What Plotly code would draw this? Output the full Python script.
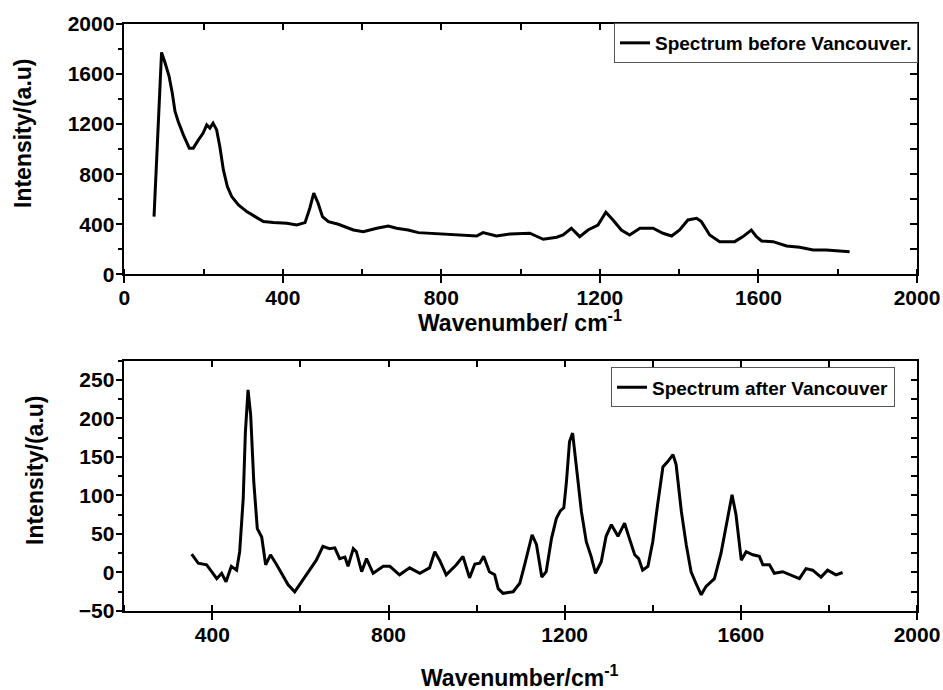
import plotly.graph_objects as go

# Raman spectrum recorded before the trip (wavenumber in cm^-1, intensity in a.u.)
wn_before = [75, 94, 103, 113, 121, 128, 136, 149, 164, 174, 187, 199, 208, 216, 224, 233,
             241, 250, 260, 271, 288, 309, 330, 351, 376, 410, 435, 456, 468, 478, 489, 500,
             515, 540, 578, 603, 637, 666, 687, 716, 742, 771, 813, 855, 889, 905, 939, 973,
             1006, 1023, 1057, 1091, 1107, 1128, 1149, 1170, 1195, 1215, 1233, 1254, 1275,
             1301, 1334, 1359, 1381, 1401, 1422, 1444, 1456, 1477, 1502, 1540, 1561, 1582,
             1595, 1608, 1637, 1671, 1704, 1738, 1771, 1805, 1830]
int_before = [461, 1773, 1688, 1581, 1448, 1301, 1221, 1114, 1008, 1008, 1074, 1128, 1194, 1168,
              1208, 1154, 1021, 834, 701, 621, 554, 501, 461, 421, 413, 408, 394, 413, 528, 648,
              568, 461, 421, 400, 354, 341, 368, 386, 368, 354, 333, 328, 322, 314, 306, 333,
              306, 322, 322, 328, 280, 296, 314, 368, 301, 354, 394, 496, 434, 354, 314, 368,
              368, 328, 306, 354, 434, 448, 421, 314, 261, 261, 301, 354, 301, 266, 261, 226,
              216, 194, 194, 189, 181]

# Baseline-corrected spectrum recorded after the trip
wn_after = [353, 368, 387, 410, 421, 431, 443, 455, 462, 470, 475, 481, 487, 494, 502, 512,
            521, 532, 546, 557, 572, 587, 602, 621, 636, 651, 666, 678, 689, 701, 708, 720,
            727, 739, 750, 765, 788, 803, 825, 848, 871, 893, 905, 916, 931, 954, 969, 984,
            996, 1007, 1016, 1029, 1041, 1049, 1060, 1083, 1098, 1109, 1117, 1126, 1136, 1148,
            1158, 1170, 1181, 1190, 1198, 1204, 1211, 1218, 1226, 1238, 1249, 1260, 1270, 1283,
            1294, 1306, 1321, 1336, 1347, 1359, 1368, 1377, 1389, 1400, 1411, 1423, 1434, 1446,
            1453, 1465, 1476, 1487, 1498, 1510, 1521, 1540, 1555, 1567, 1580, 1589, 1601, 1612,
            1627, 1642, 1650, 1665, 1676, 1695, 1714, 1733, 1748, 1763, 1782, 1797, 1816, 1831]
int_after = [24, 12, 10, -8, -1, -12, 8, 3, 27, 96, 183, 237, 204, 118, 57, 46,
             10, 23, 10, -1, -16, -25, -12, 3, 16, 34, 31, 32, 18, 20, 8, 31,
             27, 1, 18, -1, 8, 8, -3, 6, -1, 6, 27, 16, -3, 10, 21, -7,
             11, 12, 21, 1, -3, -21, -27, -25, -14, 10, 27, 49, 36, -6,
             1, 44, 70, 80, 84, 118, 170, 181, 140, 79, 40, 21, -1, 14,
             47, 62, 47, 64, 44, 23, 18, 3, 8, 40, 88, 137, 144, 153,
             140, 79, 36, 1, -14, -29, -18, -8, 25, 62, 101, 75, 16, 27,
             23, 21, 10, 10, -1, 1, -3, -8, 5, 3, -6, 3, -3, 0]

W, H = 943, 690
FONT = "Liberation Sans, Arial, sans-serif"


def px(x):
    return x / W


def py(y):
    return 1 - y / H


tick_font = dict(family=FONT, size=21, color="black", weight="bold")
legend_font = dict(family=FONT, size=19, color="black", weight="bold")

fig = go.Figure()
fig.add_trace(go.Scatter(x=wn_before, y=int_before, mode="lines",
                         line=dict(color="black", width=3),
                         name="Spectrum before Vancouver.", legend="legend",
                         xaxis="x", yaxis="y"))
fig.add_trace(go.Scatter(x=wn_after, y=int_after, mode="lines",
                         line=dict(color="black", width=3),
                         name="Spectrum after Vancouver", legend="legend2",
                         xaxis="x2", yaxis="y2"))
# single-point placeholder traces that carry the top/right tick axes (draw nothing)
for xa, ya, xv, yv in [("x3", "y", 1000, 1000), ("x", "y3", 1000, 1000),
                       ("x4", "y2", 1000, 100), ("x2", "y4", 1000, 100)]:
    fig.add_trace(go.Scatter(x=[xv], y=[yv], mode="lines", xaxis=xa, yaxis=ya,
                             line=dict(color="rgba(0,0,0,0)"),
                             showlegend=False, hoverinfo="skip"))

xdom = [px(124.3), px(917)]
top_dom = [py(274.3), py(24)]
bot_dom = [py(611), py(360.7)]

axis_common = dict(showgrid=False, zeroline=False, showline=True, linecolor="black",
                   linewidth=1.5, mirror=True, tickcolor="black", tickwidth=1.5,
                   tickfont=tick_font, ticklabelstandoff=-3, automargin=False)
inner_common = dict(ticks="inside", tickcolor="black", tickwidth=1.5, automargin=False,
                    showticklabels=False, showgrid=False, zeroline=False, showline=False)

fig.update_layout(
    template="none",
    width=W, height=H, margin=dict(l=0, r=0, t=0, b=0, pad=0, autoexpand=False),
    paper_bgcolor="white", plot_bgcolor="white",
    font=dict(family=FONT, color="black"),
    xaxis=dict(domain=xdom, anchor="y", range=[0, 2000], dtick=400, tick0=0,
               ticks="outside", ticklen=7,
               minor=dict(dtick=200, ticks="inside", ticklen=6, tickwidth=1.5, tickcolor="black"),
               **axis_common),
    yaxis=dict(domain=top_dom, anchor="x", range=[0, 2000], dtick=400, tick0=0,
               ticks="outside", ticklen=7,
               minor=dict(dtick=200, ticks="outside", ticklen=5, tickwidth=1.5, tickcolor="black"),
               **axis_common),
    xaxis3=dict(overlaying="x", anchor="y", side="top", range=[0, 2000], dtick=200, tick0=0,
                ticklen=6, **inner_common),
    yaxis3=dict(overlaying="y", anchor="x", side="right", range=[0, 2000], dtick=200, tick0=0,
                ticklen=7, **inner_common),
    xaxis2=dict(domain=xdom, anchor="y2", range=[200, 2000], dtick=400, tick0=0,
                ticks="outside", ticklen=7,
                minor=dict(dtick=200, ticks="inside", ticklen=6, tickwidth=1.5, tickcolor="black"),
                **axis_common),
    yaxis2=dict(domain=bot_dom, anchor="x2", range=[-50, 275], dtick=50, tick0=0,
                ticks="outside", ticklen=7,
                minor=dict(dtick=25, ticks="outside", ticklen=5, tickwidth=1.5, tickcolor="black"),
                **axis_common),
    xaxis4=dict(overlaying="x2", anchor="y2", side="top", range=[200, 2000], dtick=200, tick0=0,
                ticklen=6, **inner_common),
    yaxis4=dict(overlaying="y2", anchor="x2", side="right", range=[-50, 275], dtick=25, tick0=0,
                ticklen=6, **inner_common),
    legend=dict(x=px(918), xanchor="right", y=py(43), yanchor="middle",
                bgcolor="white", bordercolor="#555", borderwidth=1, font=legend_font),
    legend2=dict(x=px(895), xanchor="right", y=py(387.3), yanchor="middle",
                 bgcolor="white", bordercolor="#555", borderwidth=1, font=legend_font),
    showlegend=True,
)

title_font = dict(family=FONT, size=23, color="black", weight="bold")
annotations = [
    dict(text="Intensity/(a.u)", x=px(23), y=py(133), textangle=-90),
    dict(text="Intensity/(a.u)", x=px(35), y=py(470), textangle=-90),
    dict(text="Wavenumber/ cm<sup>-1</sup>", x=px(520), y=py(321)),
    dict(text="Wavenumber/cm<sup>-1</sup>", x=px(520), y=py(676)),
]
for a in annotations:
    fig.add_annotation(xref="paper", yref="paper", showarrow=False,
                       xanchor="center", yanchor="middle", font=title_font, **a)

fig.write_html("out.html")
